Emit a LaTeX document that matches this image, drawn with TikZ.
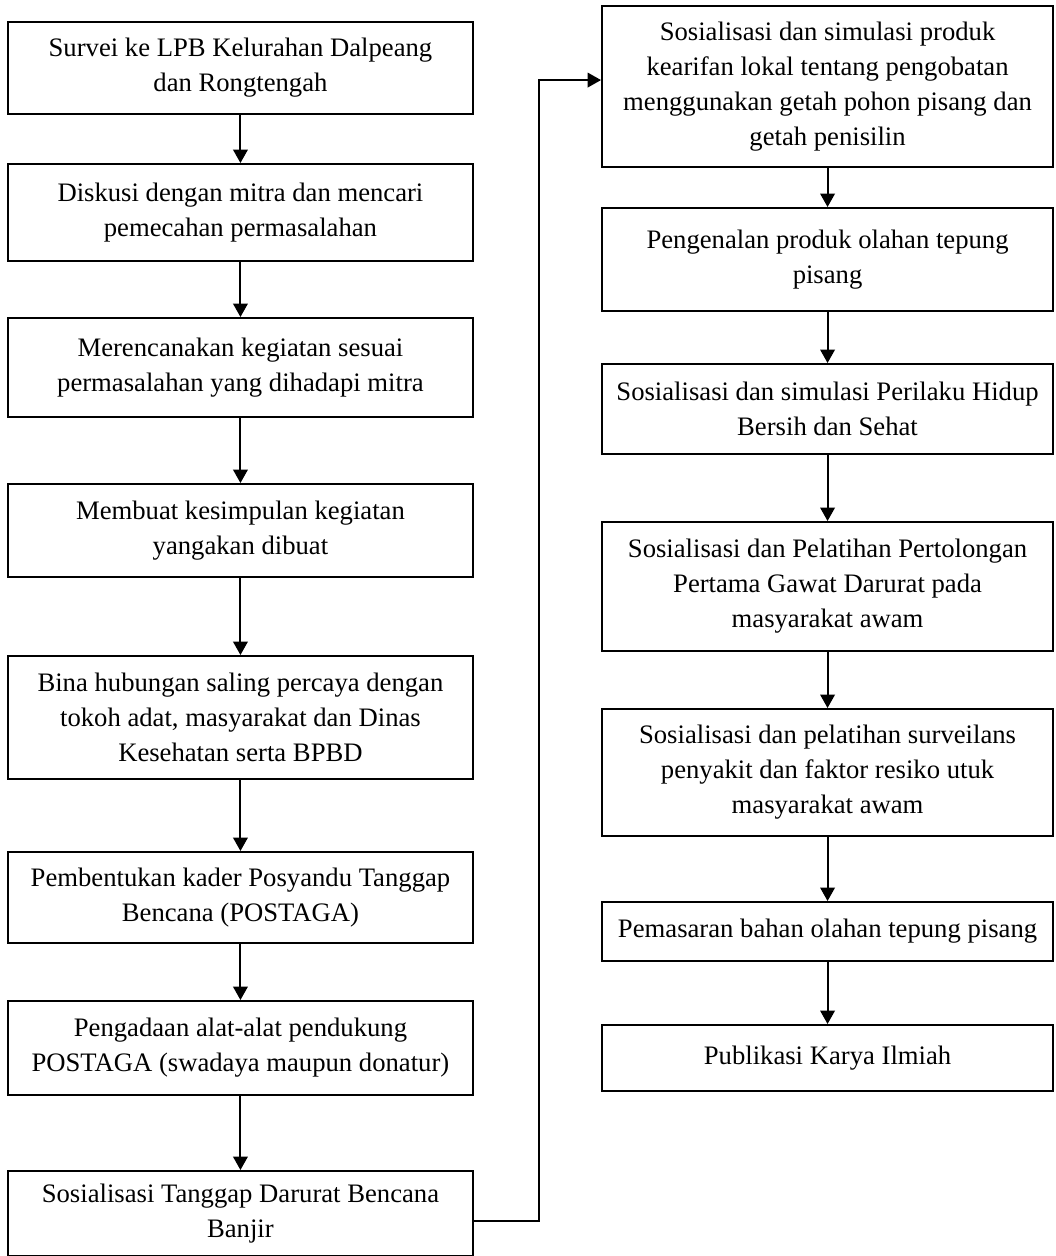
\documentclass[tikz,border=0pt]{standalone}
\usepackage{fontspec}
\setmainfont{Liberation Serif}
\usetikzlibrary{arrows.meta}
\usetikzlibrary{positioning}

\begin{document}
\begin{tikzpicture}[
    >={Triangle[length=6pt,width=6.5pt]},
    lblock/.style={draw, line width=0.9pt, minimum width=209.25pt, align=center, font=\fontsize{12}{15.75}\selectfont},
    rblock/.style={draw, line width=0.9pt, minimum width=202.95pt, align=center, font=\fontsize{12}{15.75}\selectfont},
    link/.style={->, line width=0.9pt}
]
    \useasboundingbox (0,0) rectangle (474.75pt,-565.2pt);

    % (a) left column
    \node[lblock, minimum height=41.4pt, anchor=north] (survei) at (108.2pt,-9.45pt) {Survei ke LPB Kelurahan Dalpeang\\dan Rongtengah};
    \node[lblock, minimum height=43.65pt, below=21.6pt of survei] (diskusi) {Diskusi dengan mitra dan mencari\\pemecahan permasalahan};
    \node[lblock, minimum height=44.55pt, below=24.75pt of diskusi] (rencana) {Merencanakan kegiatan sesuai\\permasalahan yang dihadapi mitra};
    \node[lblock, minimum height=41.85pt, below=29.25pt of rencana] (simpul) {Membuat kesimpulan kegiatan\\yangakan dibuat};
    \node[lblock, minimum height=55.35pt, below=34.65pt of simpul] (bina) {Bina hubungan saling percaya dengan\\tokoh adat, masyarakat dan Dinas\\Kesehatan serta BPBD};
    \node[lblock, minimum height=40.95pt, below=31.95pt of bina] (kader) {Pembentukan kader Posyandu Tanggap\\Bencana (POSTAGA)};
    \node[lblock, minimum height=42.3pt, below=25.2pt of kader] (alat) {Pengadaan alat-alat pendukung\\POSTAGA (swadaya maupun donatur)};
    \node[lblock, minimum height=38.25pt, below=33.3pt of alat] (banjir) {Sosialisasi Tanggap Darurat Bencana\\Banjir};

    \draw[link] (survei) -- (diskusi);
    \draw[link] (diskusi) -- (rencana);
    \draw[link] (rencana) -- (simpul);
    \draw[link] (simpul) -- (bina);
    \draw[link] (bina) -- (kader);
    \draw[link] (kader) -- (alat);
    \draw[link] (alat) -- (banjir);

    % (b) right column
    \node[rblock, minimum height=72.45pt, anchor=north] (kearifan) at (372.4pt,-2.25pt) {Sosialisasi dan simulasi produk\\kearifan lokal tentang pengobatan\\menggunakan getah pohon pisang dan\\getah penisilin};
    \node[rblock, minimum height=46.35pt, below=17.55pt of kearifan] (tepung) {Pengenalan produk olahan tepung\\pisang};
    \node[rblock, minimum height=40.5pt, below=22.95pt of tepung] (phbs) {Sosialisasi dan simulasi Perilaku Hidup\\Bersih dan Sehat};
    \node[rblock, minimum height=58.05pt, below=29.7pt of phbs] (ppgd) {Sosialisasi dan Pelatihan Pertolongan\\Pertama Gawat Darurat pada\\masyarakat awam};
    \node[rblock, minimum height=57.15pt, below=25.2pt of ppgd] (surv) {Sosialisasi dan pelatihan surveilans\\penyakit dan faktor resiko utuk\\masyarakat awam};
    \node[rblock, minimum height=26.55pt, below=28.8pt of surv] (pasar) {Pemasaran bahan olahan tepung pisang};
    \node[rblock, minimum height=29.7pt, below=27.9pt of pasar] (publikasi) {Publikasi Karya Ilmiah};

    \draw[link] (kearifan) -- (tepung);
    \draw[link] (tepung) -- (phbs);
    \draw[link] (phbs) -- (ppgd);
    \draw[link] (ppgd) -- (surv);
    \draw[link] (surv) -- (pasar);
    \draw[link] (pasar) -- (publikasi);

    % jump from left column to right column
    \draw[link] ([yshift=-3.4pt]banjir.east) -- ++(29.25pt,0) |- ([yshift=2.9pt]kearifan.west);
\end{tikzpicture}
\end{document}
